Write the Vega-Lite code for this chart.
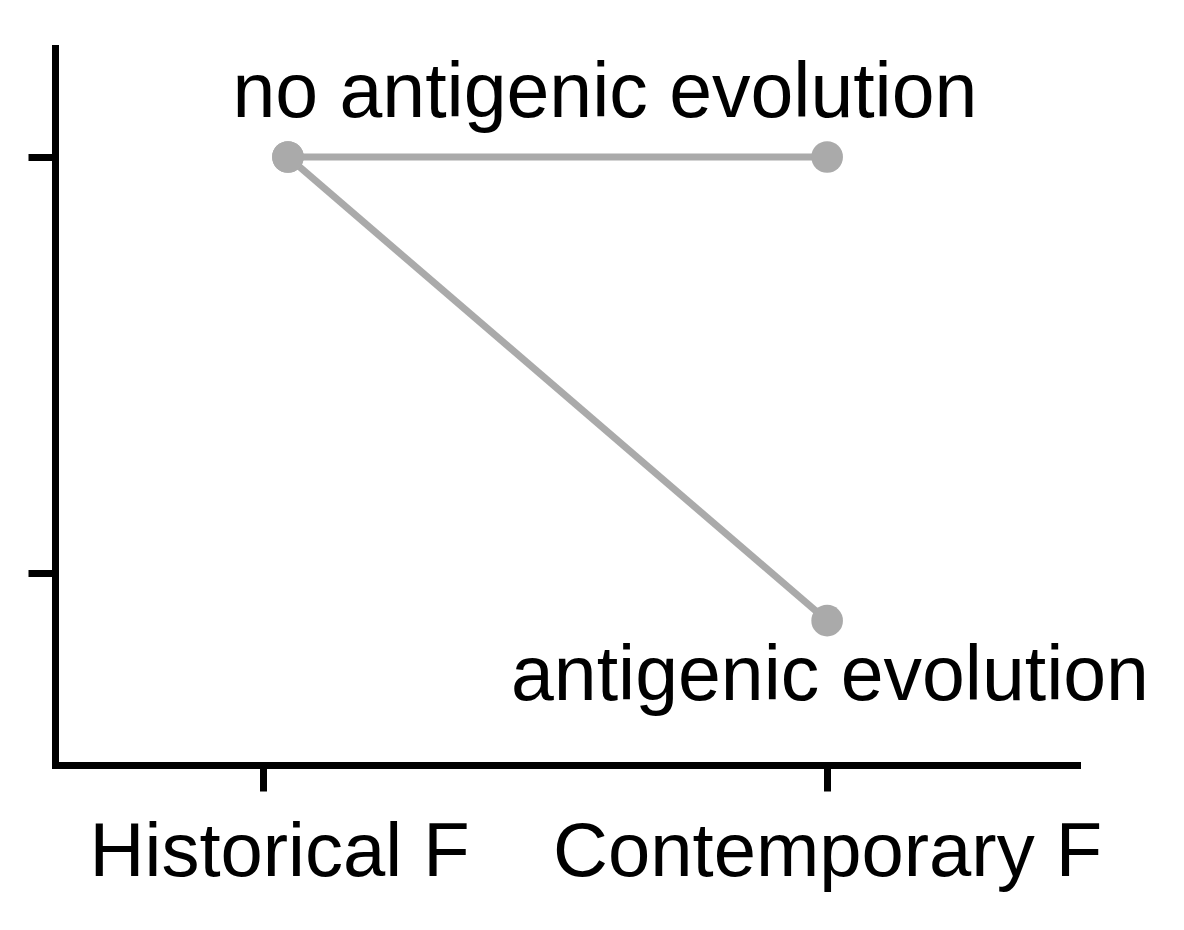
{
  "$schema": "https://vega.github.io/schema/vega-lite/v6.json",
  "autosize": {"type": "none"},
  "padding": {"left": 55, "top": 48, "right": 107, "bottom": 165},
  "width": 1022,
  "height": 717,
  "background": "white",
  "config": {
    "view": {"stroke": null},
    "font": "Liberation Sans",
    "axis": {
      "domainColor": "black",
      "tickColor": "black",
      "domainWidth": 7,
      "tickWidth": 7,
      "domainCap": "square",
      "grid": false,
      "labelColor": "black",
      "labelFont": "Liberation Sans",
      "labelFontSize": 76,
      "labelLimit": 0
    }
  },
  "datasets": {
    "pts": [
      {"condition": "Historical F", "pos": 1.044, "titer": 2.0, "scenario": "no antigenic evolution"},
      {"condition": "Contemporary F", "pos": 2.0, "titer": 2.0, "scenario": "no antigenic evolution"},
      {"condition": "Historical F", "pos": 1.044, "titer": 2.0, "scenario": "antigenic evolution"},
      {"condition": "Contemporary F", "pos": 2.0, "titer": 0.885, "scenario": "antigenic evolution"}
    ],
    "notes": [
      {"label": "no antigenic evolution", "pos": 1.606, "titer": 2.096},
      {"label": "antigenic evolution", "pos": 2.005, "titer": 0.694}
    ]
  },
  "layer": [
    {
      "data": {"name": "pts"},
      "mark": {"type": "line", "color": "#aaaaaa", "strokeWidth": 7},
      "encoding": {
        "x": {
          "field": "pos", "type": "quantitative",
          "scale": {"domain": [0.631, 2.443], "nice": false, "zero": false},
          "axis": {
            "values": [1, 2],
            "labelExpr": "datum.value == 1 ? 'Historical F' : 'Contemporary F'",
            "labelOffset": {"expr": "datum.value == 1 ? 16 : 0"},
            "tickSize": 26,
            "labelPadding": 24,
            "title": null,
            "labelFlush": false,
            "labelOverlap": false,
            "labelLimit": 0
          }
        },
        "y": {
          "field": "titer", "type": "quantitative",
          "scale": {"domain": [0.538, 2.262], "nice": false, "zero": false},
          "axis": {"values": [1, 2], "labels": false, "tickSize": 27, "title": null}
        },
        "detail": {"field": "scenario"}
      }
    },
    {
      "data": {"name": "pts"},
      "mark": {"type": "circle", "color": "#aaaaaa", "opacity": 1, "size": 1000},
      "encoding": {
        "x": {"field": "pos", "type": "quantitative"},
        "y": {"field": "titer", "type": "quantitative"}
      }
    },
    {
      "data": {"name": "notes"},
      "mark": {"type": "text", "fontSize": 77, "font": "Liberation Sans", "color": "black", "align": "center", "baseline": "alphabetic"},
      "encoding": {
        "x": {"field": "pos", "type": "quantitative"},
        "y": {"field": "titer", "type": "quantitative"},
        "text": {"field": "label"}
      }
    }
  ]
}
